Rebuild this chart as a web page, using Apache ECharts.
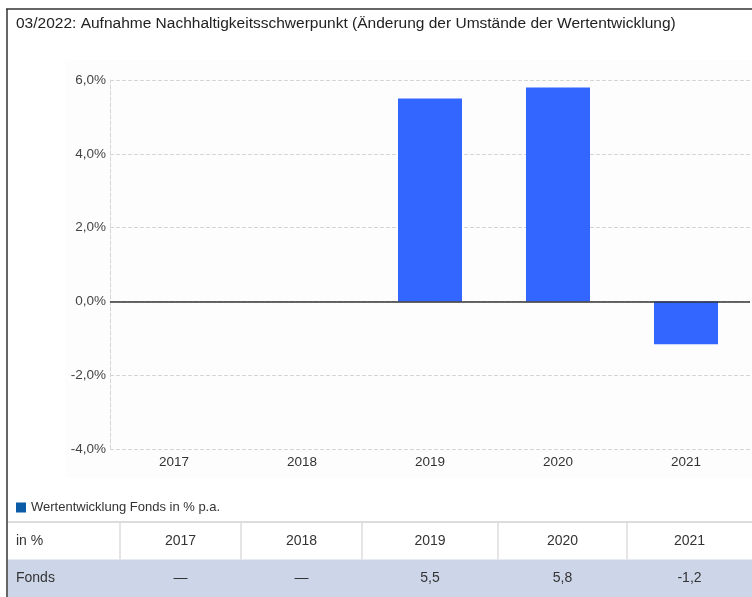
<!DOCTYPE html>
<html>
<head>
<meta charset="utf-8">
<script src="https://cdn.jsdelivr.net/npm/echarts@6/dist/echarts.min.js"></script>
<style>
html,body{margin:0;padding:0;background:#fff;}
#chart{width:752px;height:597px;}
</style>
</head>
<body>
<div id="chart"></div>
<script>
var titleText = '03/2022: Aufnahme Nachhaltigkeitsschwerpunkt (Änderung der Umstände der Wertentwicklung)';
var categories = ['2017', '2018', '2019', '2020', '2021'];
var fundValues = [null, null, 5.5, 5.8, -1.16];
var tableLabels = ['—', '—', '5,5', '5,8', '-1,2'];
var yTicks = [-4, -2, 0, 2, 4, 6];
var seriesName = 'Wertentwicklung Fonds in % p.a.';
var rowHeader = 'in %';
var rowName = 'Fonds';

var font = '"Liberation Sans", Arial, sans-serif';
var colEdges = [8, 120, 241, 362, 498, 627, 752];
var headY = 522, midY = 559.5, botY = 597;

var graphics = [];
// faint plot background
graphics.push({type:'rect', z:-10, shape:{x:65,y:60,width:687,height:418}, style:{fill:'#fdfdfd'}});
// data row background
graphics.push({type:'rect', shape:{x:8,y:midY,width:744,height:botY-midY}, style:{fill:'#cdd6e9'}});
// table top line
graphics.push({type:'line', shape:{x1:8,y1:headY,x2:752,y2:headY}, style:{stroke:'#dcdcdc',lineWidth:2}});
// header vertical separators
for (var i = 1; i < colEdges.length - 1; i++) {
  graphics.push({type:'line', shape:{x1:colEdges[i],y1:headY,x2:colEdges[i],y2:midY}, style:{stroke:'#dcdcdc',lineWidth:1.5}});
}
graphics.push({type:'text', style:{text:rowHeader, x:16, y:(headY+midY)/2, textVerticalAlign:'middle', font:'14px '+font, fill:'#333'}});
graphics.push({type:'text', style:{text:rowName, x:16, y:(midY+botY)/2, textVerticalAlign:'middle', font:'14px '+font, fill:'#333'}});
for (var j = 0; j < categories.length; j++) {
  var cx = (colEdges[j+1] + colEdges[j+2]) / 2;
  graphics.push({type:'text', style:{text:categories[j], x:cx, y:(headY+midY)/2, textAlign:'center', textVerticalAlign:'middle', font:'14px '+font, fill:'#333'}});
  graphics.push({type:'text', style:{text:tableLabels[j], x:cx, y:(midY+botY)/2, textAlign:'center', textVerticalAlign:'middle', font:'14px '+font, fill:'#333'}});
}
// outer border (top and left)
graphics.push({type:'line', shape:{x1:6,y1:9,x2:752,y2:9}, style:{stroke:'#333',lineWidth:1.5}});
graphics.push({type:'line', shape:{x1:7,y1:9,x2:7,y2:597}, style:{stroke:'#333',lineWidth:1.5}});

var chart = echarts.init(document.getElementById('chart'), null, {renderer:'canvas'});
chart.setOption({
  animation: false,
  backgroundColor: '#fff',
  title: {
    text: titleText, left: 11, top: 11,
    textStyle: {fontSize: 15.5, fontWeight: 'normal', color: '#222', fontFamily: font}
  },
  legend: {
    left: 11, top: 496, itemWidth: 10, itemHeight: 10, itemGap: 6,
    icon: 'rect',
    textStyle: {fontSize: 13, color: '#333', fontFamily: font},
    data: [{name: seriesName, itemStyle: {color: '#0b5ba6'}}]
  },
  grid: {left: 110, right: 2, top: 80, bottom: 148},
  xAxis: {
    type: 'category', data: categories,
    axisLine: {show: false}, axisTick: {show: false},
    axisLabel: {margin: 6, fontSize: 13.5, color: '#333', fontFamily: font}
  },
  yAxis: {
    type: 'value', min: -4, max: 6, interval: 2,
    axisLine: {show: true, lineStyle: {color: '#d6d6d6', type: 'dashed'}},
    axisTick: {show: false},
    axisLabel: {
      margin: 4, fontSize: 13.5, color: '#444', fontFamily: font,
      formatter: function (v) { return yTicks.indexOf(v) >= 0 ? v.toFixed(1).replace('.', ',') + '%' : ''; }
    },
    splitLine: {lineStyle: {color: '#d6d6d6', type: 'dashed'}}
  },
  series: [{
    name: seriesName, type: 'bar', data: fundValues,
    barWidth: '50%',
    itemStyle: {color: '#3366ff'},
    markLine: {
      silent: true, symbol: 'none', label: {show: false},
      lineStyle: {color: '#333', type: 'solid', width: 1.5},
      data: [{yAxis: 0}]
    }
  }],
  graphic: graphics
});
</script>
</body>
</html>
